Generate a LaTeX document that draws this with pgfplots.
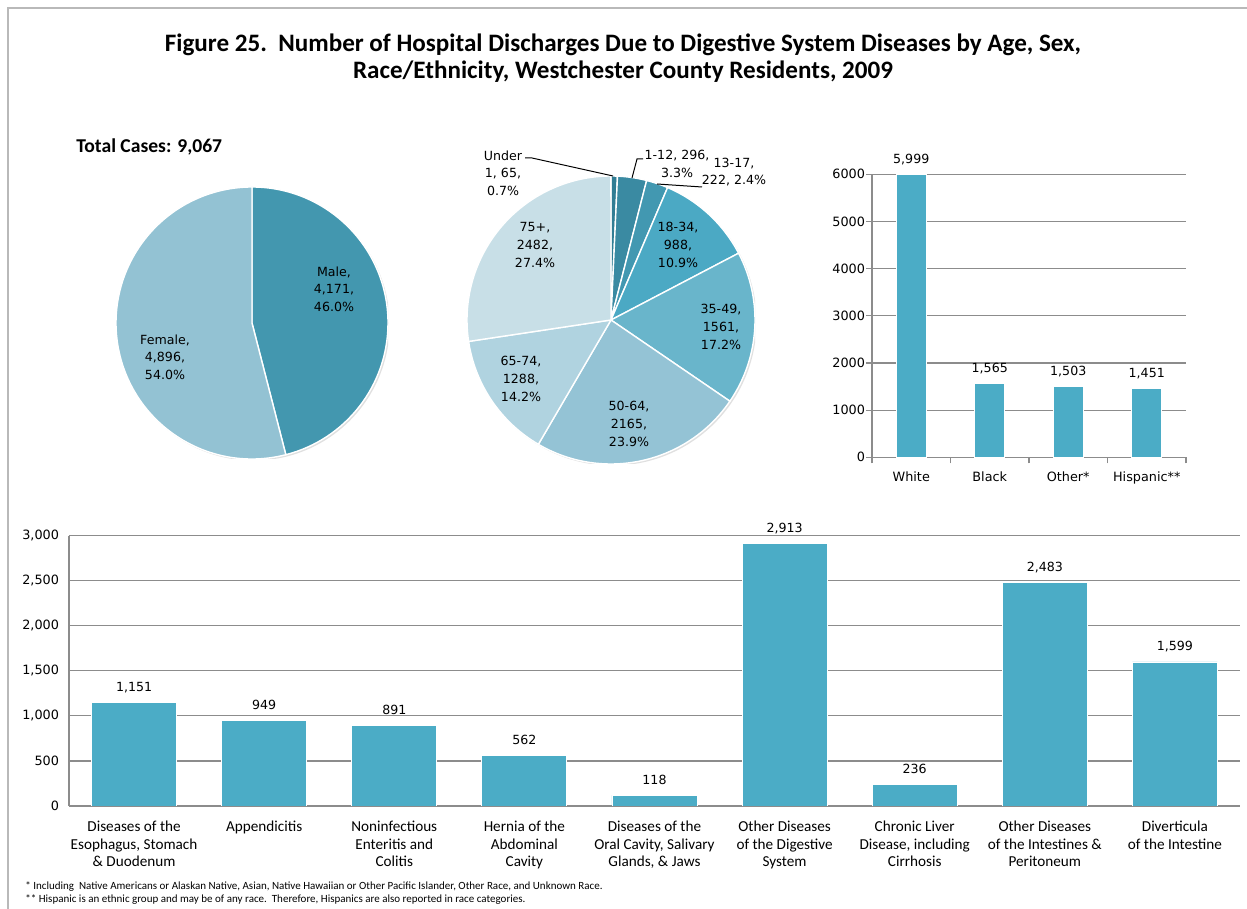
\documentclass[border=0pt]{standalone}
\usepackage{fontspec}
\setmainfont{Carlito}
\newfontfamily\vf{DejaVu Sans}
\usepackage{pgfplots}
\pgfplotsset{compat=1.18}

\definecolor{barc}{HTML}{4BACC6}
\definecolor{gridc}{HTML}{8C8C8C}
\definecolor{male}{HTML}{4397AF}
\definecolor{female}{HTML}{93C2D3}
\definecolor{ageA}{HTML}{317D94}
\definecolor{ageB}{HTML}{3A8AA2}
\definecolor{ageC}{HTML}{4298B1}
\definecolor{ageD}{HTML}{4BA9C4}
\definecolor{ageE}{HTML}{69B5CB}
\definecolor{ageF}{HTML}{94C3D5}
\definecolor{ageG}{HTML}{B0D3E0}
\definecolor{ageH}{HTML}{C8DFE7}

% pie wedges inside a hidden axis, clockwise from 12 o'clock
\newcommand\pieslices[3]{%
  \fill[black!12] (axis cs:0,0) ++(0.8pt,-0.8pt) circle[radius=#1];
  \xdef\pieang{90}%
  \foreach \v/\c in {#3} {%
    \pgfmathsetmacro\pieend{\pieang-\v/#2*360}%
    \edef\tmp{\noexpand\fill[\c, draw=white, line width=0.7pt]
      (axis cs:0,0) -- ++(\pieang:#1) arc[start angle=\pieang, end angle=\pieend, radius=#1] -- cycle;}%
    \tmp
    \xdef\pieang{\pieend}%
  }%
}

\pgfplotsset{
  chartbase/.style={
    scale only axis, anchor=south west,
    scaled y ticks=false,
    /pgf/number format/assume math mode=true,
    axis x line*=bottom, axis y line*=left,
    axis line style={gridc, line width=0.6pt},
    tick style={gridc, line width=0.6pt},
    ymajorgrids, grid style={gridc, line width=0.6pt},
    yticklabel style={font=\vf\fontsize{6.4}{7.5}\selectfont},
    nodes near coords={\pgfmathprintnumber[1000 sep={,}]{\pgfplotspointmeta}},
    nodes near coords style={font=\vf\fontsize{6.3}{7.5}\selectfont, anchor=base, yshift=5.5pt, text=black},
  },
  piebase/.style={scale only axis, anchor=center, hide axis,
    xmin=-1, xmax=1, ymin=-1, ymax=1},
}
\tikzset{lab/.style={font=\vf\fontsize{6.3}{8.8}\selectfont, align=center, inner sep=0pt}}

\begin{document}
\begin{tikzpicture}
% sex
\begin{axis}[piebase, at={(126pt,293pt)}, width=136pt, height=136pt]
\pieslices{68pt}{9067}{4171/male, 4896/female}
\end{axis}

% age
\begin{axis}[piebase, at={(305.5pt,294.5pt)}, width=144pt, height=144pt]
\pieslices{72pt}{9067}{65/ageA, 296/ageB, 222/ageC, 988/ageD, 1561/ageE, 2165/ageF, 1288/ageG, 2482/ageH}
\end{axis}

% race / ethnicity
\begin{axis}[chartbase, at={(436pt,225.85pt)}, width=157pt, height=141.5pt,
  xmin=-0.5, xmax=3.5, ymin=0, ymax=6000,
  xtick={-0.5,0.5,1.5,2.5,3.5}, x tick label as interval,
  xticklabels={White, Black, Other*, Hispanic**},
  xticklabel style={font=\vf\fontsize{6.4}{7.5}\selectfont, yshift=-0.5pt},
  yticklabel style={xshift=3pt},
  ytick={0,1000,...,6000},
  /pgf/number format/1000 sep={},
  tick align=outside, major tick length=3pt,
  bar width=15pt,
]
\addplot[ybar, fill=barc, draw=white, line width=0.4pt] coordinates {(0,5999) (1,1565) (2,1503) (3,1451)};
\end{axis}

% diagnosis
\begin{axis}[chartbase, at={(34.5pt,51.5pt)}, width=585.5pt, height=135.15pt,
  xmin=-0.5, xmax=8.5, ymin=0, ymax=3000,
  xtick={0,...,8},
  xticklabels={{Diseases of the\\Esophagus, Stomach\\\& Duodenum}, {Appendicitis},
    {Noninfectious\\Enteritis and\\Colitis}, {Hernia of the\\Abdominal\\Cavity},
    {Diseases of the\\Oral Cavity, Salivary\\Glands, \& Jaws}, {Other Diseases\\of the Digestive\\System},
    {Chronic Liver\\Disease, including\\Cirrhosis}, {Other Diseases\\of the Intestines \&\\Peritoneum},
    {Diverticula\\of the Intestine}},
  xticklabel style={align=center, font=\fontsize{7.6}{8.75}\selectfont, yshift=-4pt},
  yticklabel style={xshift=-1.5pt},
  major x tick style={draw=none},
  ytick={0,500,...,3000},
  major y tick style={draw=none},
  /pgf/number format/1000 sep={,},
  bar width=42.5pt,
]
\addplot[ybar, fill=barc, draw=white, line width=0.4pt] coordinates
  {(0,1151) (1,949) (2,891) (3,562) (4,118) (5,2913) (6,236) (7,2483) (8,1599)};
\end{axis}

\begin{scope}[x=0.5pt, y=0.5pt]
\useasboundingbox (0,0) rectangle (1247,909);
\draw[gray!55, line width=0.6pt] (8,0) -- (8,901) -- (1247,901);

\node[font=\bfseries\fontsize{12.55}{13.5}\selectfont, align=center] at (623,850.5)
  {Figure 25.\ \ Number of Hospital Discharges Due to Digestive System Diseases by Age, Sex,\\
   Race/Ethnicity, Westchester County Residents, 2009};

\node[anchor=west, font=\bfseries\fontsize{9.8}{12}\selectfont, inner sep=0pt] at (76,762) {Total Cases: 9,067};

\node[lab] at (334,620) {Male,\\4,171,\\46.0\%};
\node[lab] at (165,552) {Female,\\4,896,\\54.0\%};

\draw[black, line width=0.5pt] (525,751) -- (532,751) -- (613,733);
\draw[black, line width=0.5pt] (643,750) -- (637,750) -- (632,731);
\draw[black, line width=0.5pt] (702,722) -- (657,725);
\node[lab] at (503,736) {Under\\1, 65,\\0.7\%};
\node[lab] at (677,745) {1-12, 296,\\3.3\%};
\node[lab] at (734,737) {13-17,\\222, 2.4\%};
\node[lab] at (678,664) {18-34,\\988,\\10.9\%};
\node[lab] at (721,582) {35-49,\\1561,\\17.2\%};
\node[lab] at (629,485) {50-64,\\2165,\\23.9\%};
\node[lab] at (521,530) {65-74,\\1288,\\14.2\%};
\node[lab] at (535,664) {75+,\\2482,\\27.4\%};

\node[anchor=base west, font=\fontsize{5.5}{6.5}\selectfont, inner sep=0pt] at (25,19)
  {* Including\ \ Native Americans or Alaskan Native, Asian, Native Hawaiian or Other Pacific Islander, Other Race, and Unknown Race.};
\node[anchor=base west, font=\fontsize{5.5}{6.5}\selectfont, inner sep=0pt] at (25,6)
  {** Hispanic is an ethnic group and may be of any race.\ \ Therefore, Hispanics are also reported in race categories.};
\end{scope}
\end{tikzpicture}
\end{document}
